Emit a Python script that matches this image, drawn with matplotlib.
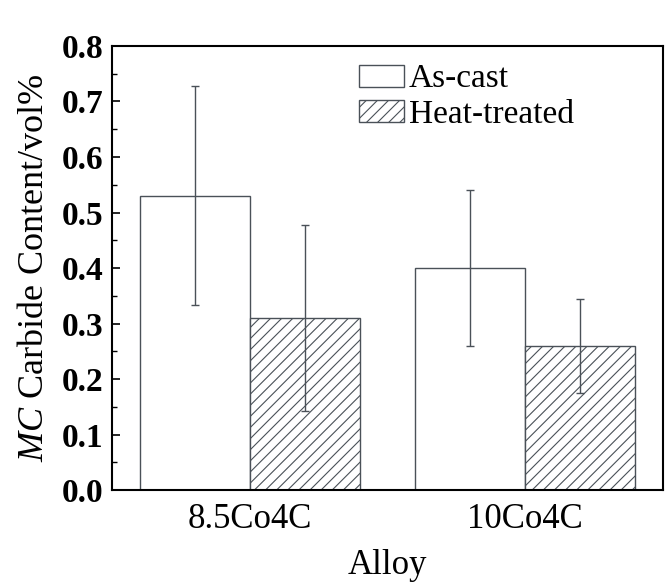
import numpy as np
import matplotlib.pyplot as plt
from matplotlib.ticker import MultipleLocator

# MC carbide content per alloy, as-cast vs heat-treated
alloys = ['8.5Co4C', '10Co4C']
as_cast = [0.53, 0.40]
as_cast_err = [0.197, 0.14]
heat_treated = [0.31, 0.26]
heat_treated_err = [0.168, 0.085]

plt.rcParams['font.family'] = ['Liberation Serif', 'DejaVu Serif']
plt.rcParams['mathtext.fontset'] = 'custom'
plt.rcParams['mathtext.rm'] = 'Liberation Serif'
plt.rcParams['mathtext.it'] = 'Liberation Serif:italic'
plt.rcParams['hatch.color'] = '#4a5158'
plt.rcParams['hatch.linewidth'] = 0.8

edge = '#4a5158'
fig = plt.figure(figsize=(6.67, 5.82), dpi=100)
ax = fig.add_axes([0.168, 0.158, 0.826, 0.763])

x = np.arange(len(alloys))
w = 0.4
ax.bar(x - w / 2, as_cast, w, color='white', edgecolor=edge, linewidth=1.0,
       label='As-cast')
ax.bar(x + w / 2, heat_treated, w, color='white', edgecolor=edge, linewidth=1.0,
       hatch='///', label='Heat-treated')
ax.errorbar(x - w / 2, as_cast, yerr=as_cast_err, fmt='none', ecolor=edge,
            elinewidth=1.0, capsize=3, capthick=1.0)
ax.errorbar(x + w / 2, heat_treated, yerr=heat_treated_err, fmt='none', ecolor=edge,
            elinewidth=1.0, capsize=3, capthick=1.0)

ax.set_xlim(-0.5, 1.5)
ax.set_ylim(0, 0.8)
ax.yaxis.set_major_locator(MultipleLocator(0.1))
ax.yaxis.set_minor_locator(MultipleLocator(0.05))
ax.set_yticklabels([f'{v:.1f}' for v in ax.get_yticks()], fontsize=24, fontweight='bold')
ax.tick_params(axis='y', which='major', direction='in', length=6, width=1.2, pad=6)
ax.tick_params(axis='y', which='minor', direction='in', length=3.5, width=1.0)
ax.set_xticks(x)
ax.set_xticklabels(alloys, fontsize=25)
ax.tick_params(axis='x', length=0, pad=9)

for s in ax.spines.values():
    s.set_linewidth(1.5)
    s.set_color('black')

ax.set_xlabel('Alloy', fontsize=25, labelpad=10)
ax.set_ylabel('$\\mathit{MC}$ Carbide Content/vol%', fontsize=26, labelpad=8)

ax.legend(loc='upper left', bbox_to_anchor=(0.405, 1.012), frameon=False,
          fontsize=24, handlelength=1.35, handleheight=0.65, handletextpad=0.15,
          labelspacing=0.15, borderaxespad=0.3)

fig.savefig('out.png', dpi=100)
